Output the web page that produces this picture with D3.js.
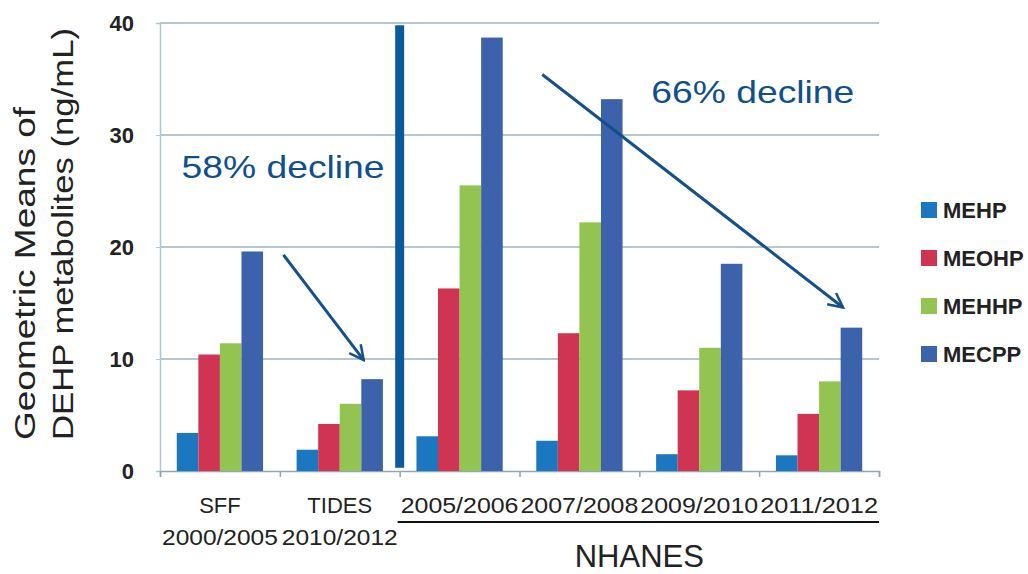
<!DOCTYPE html>
<html>
<head>
<meta charset="utf-8">
<script src="https://cdn.jsdelivr.net/npm/d3@7"></script>
<style>
  body { margin: 0; background: #fff; }
  text { font-family: "Liberation Sans", Arial, sans-serif; }
</style>
</head>
<body>
<div id="chart"></div>
<script>
// groups along the x axis (two lines each)
const groups = ["SFF", "TIDES", "2005/2006", "2007/2008", "2009/2010", "2011/2012"];
const groupSub = ["2000/2005", "2010/2012", "", "", "", ""];
const series = ["MEHP", "MEOHP", "MEHHP", "MECPP"];

// geometric means (ng/mL), one array per metabolite
const MEHP  = [3.4, 1.9, 3.1, 2.7, 1.5, 1.4];
const MEOHP = [10.4, 4.2, 16.3, 12.3, 7.2, 5.1];
const MEHHP = [11.4, 6.0, 25.5, 22.2, 11.0, 8.0];
const MECPP = [19.6, 8.2, 38.7, 33.2, 18.5, 12.8];
const values = { MEHP, MEOHP, MEHHP, MECPP };

const yTicks = [0, 10, 20, 30, 40];
const colors = ["#1b78c0", "#cf3452", "#93c350", "#3b62aa"];

// annotations in data units: x in group units (0..6), y in ng/mL
const arrows = [
  { x1: 1.03, y1: 19.3, x2: 1.70, y2: 9.9 },
  { x1: 3.19, y1: 35.4, x2: 5.70, y2: 14.6 }
];
const notes = [
  { text: "58% decline", x: 0.18, y: 26.2 },
  { text: "66% decline", x: 4.10, y: 32.9 }
];

const width = 1028, height = 574;
const margin = { top: 23, right: 149, bottom: 103, left: 160 };
const innerW = width - margin.left - margin.right;
const innerH = height - margin.top - margin.bottom;

const svg = d3.select("#chart").append("svg")
  .attr("width", width)
  .attr("height", height);

const g = svg.append("g")
  .attr("transform", "translate(" + margin.left + "," + margin.top + ")");

const x0 = d3.scaleBand().domain(groups).range([0, innerW]).padding(0);
const bw = x0.bandwidth();
const x1 = d3.scaleBand().domain(series).range([bw * 0.14, bw * 0.86]).padding(0);
const xu = d3.scaleLinear().domain([0, 6]).range([0, innerW]);
const y = d3.scaleLinear().domain([0, 40]).range([innerH, 0]);

// gridlines
g.append("g")
  .selectAll("line")
  .data(yTicks.filter(d => d > 0))
  .enter().append("line")
  .attr("x1", 0).attr("x2", innerW)
  .attr("y1", d => y(d)).attr("y2", d => y(d))
  .attr("stroke", "#9fb3c3")
  .attr("stroke-width", 1.3);

// y axis
const yAxis = g.append("g")
  .call(d3.axisLeft(y).tickValues(yTicks).tickSize(4).tickPadding(22));
yAxis.select(".domain").attr("stroke", "#a9c8cf").attr("stroke-width", 1.5);
yAxis.selectAll(".tick line").attr("stroke", "#a9c8cf");
yAxis.selectAll("text")
  .attr("font-size", 22)
  .attr("font-weight", "bold")
  .attr("fill", "#222");

// x axis
const xAxis = g.append("g")
  .attr("transform", "translate(0," + innerH + ")")
  .call(d3.axisBottom(xu).ticks(6).tickSize(6).tickFormat(""));
xAxis.select(".domain").attr("stroke", "#8fa6b8").attr("stroke-width", 1.5);
xAxis.selectAll(".tick line").attr("stroke", "#8fa6b8").attr("stroke-width", 1.5);

// bars
const grp = g.append("g").selectAll("g")
  .data(groups)
  .enter().append("g")
  .attr("transform", d => "translate(" + x0(d) + ",0)");

grp.selectAll("rect")
  .data((d, i) => series.map((s, k) => ({ s, k, v: values[s][i] })))
  .enter().append("rect")
  .attr("x", d => x1(d.s))
  .attr("width", x1.bandwidth())
  .attr("y", d => y(d.v))
  .attr("height", d => innerH - y(d.v))
  .attr("fill", d => colors[d.k]);

// group labels
const labels = g.append("g").attr("font-size", 22).attr("fill", "#222");
labels.selectAll("text.l1")
  .data(groups)
  .enter().append("text")
  .attr("class", "l1")
  .attr("x", d => x0(d) + bw / 2)
  .attr("y", innerH + 42)
  .attr("text-anchor", "middle")
  .attr("textLength", (d, i) => i < 2 ? null : bw - 2)
  .attr("lengthAdjust", "spacingAndGlyphs")
  .text(d => d);
labels.selectAll("text.l2")
  .data(groups)
  .enter().append("text")
  .attr("class", "l2")
  .attr("x", d => x0(d) + bw / 2)
  .attr("y", innerH + 74)
  .attr("text-anchor", "middle")
  .attr("textLength", (d, i) => groupSub[i] ? bw - 4 : null)
  .attr("lengthAdjust", "spacingAndGlyphs")
  .text((d, i) => groupSub[i]);

// NHANES underline and label
g.append("line")
  .attr("x1", x0("2005/2006") - 2).attr("x2", innerW)
  .attr("y1", innerH + 51).attr("y2", innerH + 51)
  .attr("stroke", "#111").attr("stroke-width", 2.2);
g.append("text")
  .attr("x", x0("2009/2010"))
  .attr("y", innerH + 96)
  .attr("text-anchor", "middle")
  .attr("font-size", 31)
  .attr("fill", "#222")
  .text("NHANES");

// separator between studies and NHANES
g.append("line")
  .attr("x1", x0("2005/2006")).attr("x2", x0("2005/2006"))
  .attr("y1", y(39.8)).attr("y2", y(0.3))
  .attr("stroke", "#0d5a9a").attr("stroke-width", 9);

// arrows
svg.append("defs").append("marker")
  .attr("id", "head")
  .attr("viewBox", "0 0 10 10")
  .attr("refX", 9).attr("refY", 5)
  .attr("markerWidth", 6).attr("markerHeight", 6)
  .attr("markerUnits", "strokeWidth")
  .attr("orient", "auto")
  .append("path")
  .attr("d", "M1,1 L9,5 L1,9")
  .attr("fill", "none")
  .attr("stroke", "#15508a")
  .attr("stroke-width", 1.4);

g.append("g").selectAll("line")
  .data(arrows)
  .enter().append("line")
  .attr("x1", d => xu(d.x1)).attr("y1", d => y(d.y1))
  .attr("x2", d => xu(d.x2)).attr("y2", d => y(d.y2))
  .attr("stroke", "#15508a")
  .attr("stroke-width", 3)
  .attr("marker-end", "url(#head)");

g.append("g").selectAll("text")
  .data(notes)
  .enter().append("text")
  .attr("x", d => xu(d.x)).attr("y", d => y(d.y))
  .attr("font-size", 32)
  .attr("fill", "#0f4f8c")
  .attr("textLength", 203)
  .attr("lengthAdjust", "spacingAndGlyphs")
  .text(d => d.text);

// y axis title
const title = svg.append("text")
  .attr("transform", "translate(0,440) rotate(-90)")
  .attr("font-size", 30)
  .attr("fill", "#222");
title.append("tspan").attr("x", 0).attr("y", 35)
  .attr("textLength", 333).attr("lengthAdjust", "spacingAndGlyphs")
  .text("Geometric Means of");
title.append("tspan").attr("x", 0).attr("y", 73)
  .attr("textLength", 412).attr("lengthAdjust", "spacingAndGlyphs")
  .text("DEHP metabolites (ng/mL)");

// legend
const legend = svg.append("g")
  .attr("transform", "translate(921,202)");
const item = legend.selectAll("g")
  .data(series)
  .enter().append("g")
  .attr("transform", (d, i) => "translate(0," + i * 48 + ")");
item.append("rect")
  .attr("width", 16).attr("height", 16)
  .attr("fill", (d, i) => colors[i]);
item.append("text")
  .attr("x", 22).attr("y", 16)
  .attr("font-size", 22)
  .attr("font-weight", "bold")
  .attr("fill", "#222")
  .text(d => d);
</script>
</body>
</html>
